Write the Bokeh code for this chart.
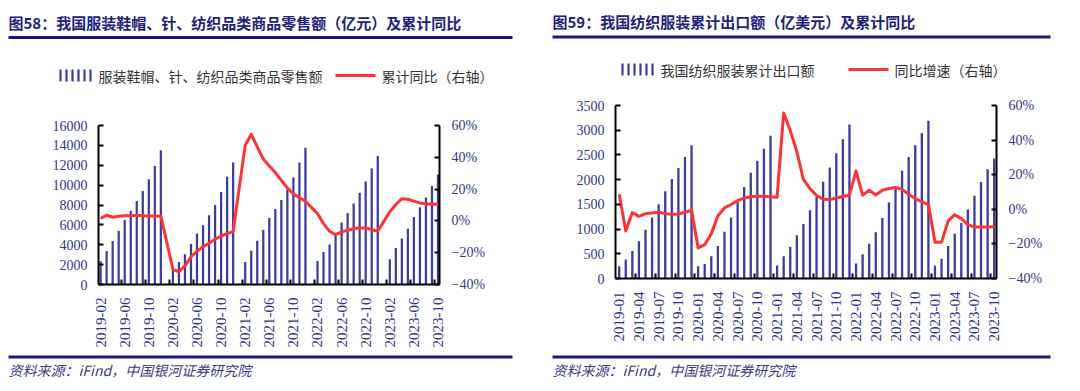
import math
from bokeh.plotting import figure
from bokeh.layouts import row, column
from bokeh.models import Range1d, LinearAxis, FixedTicker
from bokeh.core.properties import value
from bokeh.embed import file_html
from bokeh.resources import INLINE

N = None

# ---------------- 图58 data ----------------
all_months = [f"{y}-{m:02d}" for y in range(2019, 2024) for m in range(1, 13)]
retail_months = all_months[1:58]          # 2019-02 ... 2023-10
retail_sales = [
    2333, 3367, 4367, 5400, 6500, 7433, 8400, 9400, 10600, 11933, 13500,
    N, 1610, 2267, 3033, 4067, 5133, 5967, 6967, 8000, 9300, 10833, 12267,
    N, 2267, 3400, 4400, 5500, 6700, 7600, 8500, 9533, 10767, 12267, 13767,
    N, 2367, 3267, 4033, 5033, 6233, 7200, 8150, 9233, 10367, 11667, 12933,
    N, 2533, 3667, 4633, 5600, 6800, 7767, 8767, 9900, 11067,
]
retail_yoy = [
    1.5, 3.6, 2.3, 2.9, 3.3, 3.3, 3.5, 3.3, 3.1, 3.1, 3.0,
    N, -30.4, -32.0, -28.3, -22.6, -19.0, -16.3, -14.0, -11.5, -9.5, -8.0, -6.6,
    N, 47.5, 54.5, 46.5, 39.0, 34.5, 30.4, 25.5, 20.7, 17.0, 14.5, 12.4,
    N, 4.6, -1.7, -6.5, -8.6, -6.9, -5.9, -4.8, -4.4, -4.4, -5.4, -6.5,
    N, 5.7, 10.3, 14.0, 13.6, 12.4, 11.3, 10.7, 10.7, 10.3,
]
retail_left_ticks = [0, 2000, 4000, 6000, 8000, 10000, 12000, 14000, 16000]

# ---------------- 图59 data ----------------
export_months = all_months[0:58]          # 2019-01 ... 2023-10
export_value = [
    248, 383, 557, 752, 987, 1235, 1503, 1765, 2013, 2235, 2456, 2698,
    248, 295, 450, 658, 945, 1235, 1545, 1853, 2138, 2382, 2627, 2888,
    262, 450, 640, 875, 1104, 1379, 1650, 1955, 2245, 2533, 2815, 3115,
    305, 489, 703, 937, 1225, 1540, 1865, 2182, 2457, 2697, 2945, 3193,
    260, 400, 656, 903, 1124, 1398, 1673, 1954, 2208, 2429,
]
export_yoy = [
    8.7, -12.6, -1.9, -4.1, -2.5, -2.1, -1.7, -2.5, -2.9, -2.7, -1.7, -0.6,
    -22.3, -20.4, -14.2, -3.7, 0.8, 2.8, 5.0, 6.5, 7.2, 7.5, 7.6, 7.2,
    7.0, 55.7, 45.5, 33.4, 17.3, 12.0, 8.0, 5.8, 5.6, 6.5, 7.4, 8.3,
    22.2, 8.2, 11.0, 8.3, 11.0, 12.0, 12.6, 11.5, 8.7, 6.2, 4.3, 2.7,
    -19.0, -19.0, -6.8, -3.1, -5.4, -8.9, -10.3, -10.3, -10.3, -9.9,
]
export_left_ticks = [0, 500, 1000, 1500, 2000, 2500, 3000, 3500]

pct_ticks = [-40, -20, 0, 20, 40, 60]
pct_labels = ["\u221240%", "\u221220%", "0%", "20%", "40%", "60%"]

titles = ["图58：我国服装鞋帽、针、纺织品类商品零售额（亿元）及累计同比",
          "图59：我国纺织服装累计出口额（亿美元）及累计同比"]
legend_bar = ["服装鞋帽、针、纺织品类商品零售额", "我国纺织服装累计出口额"]
legend_line = ["累计同比（右轴）", "同比增速（右轴）"]
source_text = "资料来源：iFind，中国银河证券研究院"

# ---------------- styles ----------------
NAVY = "#1c1480"
TITLE_C = "#22227a"
TICK_C = "#35358a"
BAR_C = "#3c3c9c"
RED = "#ff3333"
CJK = "Noto Sans CJK SC"
SERIF = "Liberation Serif"


def deco(w, h):
    p = figure(width=w, height=h, x_range=Range1d(0, w), y_range=Range1d(h, 0),
               output_backend="svg", toolbar_location=None,
               x_axis_type=None, y_axis_type=None, min_border=0, frame_align=False)
    p.grid.visible = False
    p.outline_line_color = None
    return p


def header(w, h, title, tx, ty, rule_x0, rule_x1, rule_y, leg_y, bar_x, bar_txt, line_x, line_txt):
    p = deco(w, h)
    p.text(x=[tx], y=[ty], text=[title], text_font=value(CJK), text_font_size=value("15px"),
           text_font_style="bold", text_color=TITLE_C, text_baseline="middle", text_align="left")
    p.segment(x0=[rule_x0], y0=[rule_y], x1=[rule_x1], y1=[rule_y], line_color=NAVY, line_width=3)
    # bar legend icon: several thin bars
    xs = [bar_x + 2 + 6 * k for k in range(6)]
    p.vbar(x=xs, bottom=[leg_y + 6] * 6, top=[leg_y - 6] * 6, width=2.2, fill_color=BAR_C, line_color=None)
    p.text(x=[bar_x + 40], y=[leg_y], text=[bar_txt], text_font=value(CJK), text_font_size=value("14px"),
           text_color="#333333", text_baseline="middle", text_align="left")
    p.segment(x0=[line_x], y0=[leg_y], x1=[line_x + 40], y1=[leg_y], line_color=RED, line_width=3)
    p.text(x=[line_x + 46], y=[leg_y], text=[line_txt], text_font=value(CJK), text_font_size=value("14px"),
           text_color="#333333", text_baseline="middle", text_align="left")
    return p


def footer(w, h, x0, x1):
    p = deco(w, h)
    p.segment(x0=[x0], y0=[6.5], x1=[x1], y1=[6.5], line_color=NAVY, line_width=3)
    p.text(x=[x0], y=[19], text=[source_text], text_font=value(CJK), text_font_size=value("14px"),
           text_font_style="italic", text_color="#3a3a8a", text_baseline="middle", text_align="left")
    return p


def chart(w, h, bl, br, bt, bb, months, bars, yoy, xr, ymax, lticks, label_step, minor_start, bar_w):
    p = figure(width=w, height=h, x_range=Range1d(*xr), y_range=Range1d(0, ymax),
               output_backend="svg", toolbar_location=None, frame_align=False,
               min_border_left=bl, min_border_right=br, min_border_top=bt, min_border_bottom=bb)
    p.grid.visible = False
    p.outline_line_color = None
    p.extra_y_ranges = {"pct": Range1d(-40, 60)}

    idx = list(range(len(months)))
    bx = [i for i, v in zip(idx, bars) if v is not None]
    by = [v for v in bars if v is not None]
    p.vbar(x=bx, top=by, bottom=0, width=bar_w, fill_color=BAR_C, line_color=None)
    lx = [i for i, v in zip(idx, yoy) if v is not None]
    ly = [v for v in yoy if v is not None]
    p.line(lx, ly, y_range_name="pct", line_color=RED, line_width=3, line_join="round")

    lab_idx = idx[::label_step]
    minor = [m + 0.5 for m in range(minor_start, len(months) - 1, label_step)]
    xa = p.xaxis[0]
    xa.ticker = FixedTicker(ticks=lab_idx, minor_ticks=minor)
    xa.major_label_overrides = {i: months[i] for i in lab_idx}
    xa.major_label_orientation = math.pi / 2
    xa.major_tick_line_color = None
    xa.minor_tick_in = 5
    xa.minor_tick_out = 0
    xa.minor_tick_line_color = "black"
    xa.minor_tick_line_width = 2
    xa.axis_line_width = 2
    xa.axis_line_color = "black"
    xa.major_label_standoff = 7
    xa.major_label_text_font = SERIF
    xa.major_label_text_font_size = "15px"
    xa.major_label_text_color = TICK_C

    ya = p.yaxis[0]
    ya.ticker = FixedTicker(ticks=lticks)
    ya.major_tick_in = 5
    ya.major_tick_out = 0
    ya.minor_tick_line_color = None
    ya.major_tick_line_width = 2
    ya.axis_line_width = 2
    ya.major_label_standoff = 11
    ya.major_label_text_font = SERIF
    ya.major_label_text_font_size = "14px"
    ya.major_label_text_color = TICK_C

    ra = LinearAxis(y_range_name="pct", ticker=FixedTicker(ticks=pct_ticks),
                    major_label_overrides=dict(zip(pct_ticks, pct_labels)))
    ra.major_tick_in = 5
    ra.major_tick_out = 0
    ra.minor_tick_line_color = None
    ra.major_tick_line_width = 2
    ra.axis_line_width = 2
    ra.major_label_standoff = 12
    ra.major_label_text_font = SERIF
    ra.major_label_text_font_size = "14px"
    ra.major_label_text_color = TICK_C
    p.add_layout(ra, "right")
    return p


W = 540
# left panel (page origin at 0,0)
h1 = header(W, 115, titles[0], 8, 21.5, 8, 512, 37, 75, 58, legend_bar[0], 335, legend_line[0])
c1 = chart(W, 235, 98, 101, 10, 66, retail_months, retail_sales, retail_yoy,
           (-0.35, 56.25), 16000, retail_left_ticks, 4, 3, 0.37)
f1 = footer(W, 41, 8, 512)
# right panel
h2 = header(W, 95, titles[1], 12, 21, 12, 510, 36.5, 69, 80, legend_bar[1], 308, legend_line[1])
c2 = chart(W, 255, 75, 84, 10, 72, export_months, export_value, export_yoy,
           (-0.56, 57.35), 3500, export_left_ticks, 3, 2, 0.35)
f2 = footer(W, 41, 12, 510)

layout = row(column(h1, c1, f1), column(h2, c2, f2))
open("out.html", "w").write(file_html(layout, INLINE))
